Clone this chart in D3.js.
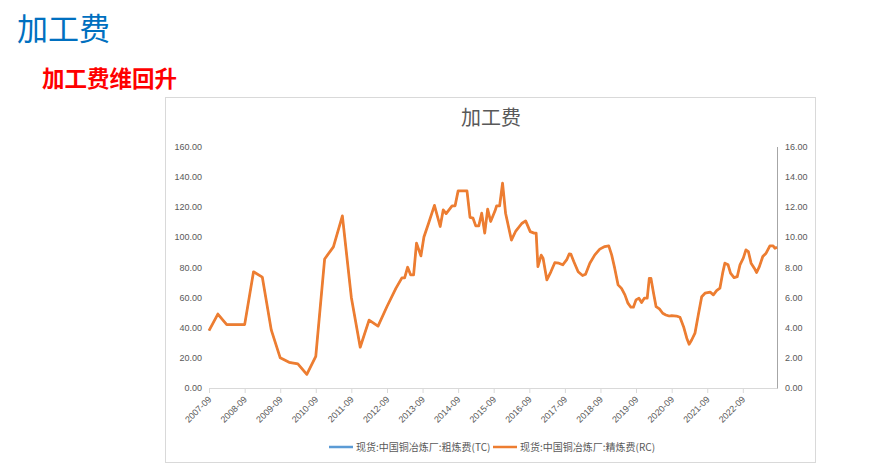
<!DOCTYPE html>
<html><head><meta charset="utf-8">
<script src="https://cdn.jsdelivr.net/npm/d3@7"></script>
<style>
body{margin:0;background:#fff;}
svg{display:block;}
</style></head>
<body>
<svg id="c" width="890" height="470"></svg>
<script>
const dates = ["2007-09-01","2007-12-01","2008-03-01","2008-06-01","2008-09-01","2008-12-01","2009-03-01","2009-06-01","2009-09-01","2009-12-01","2010-03-01","2010-06-01","2010-09-01","2010-12-01","2011-03-01","2011-06-01","2011-09-01","2011-12-01","2012-03-01","2012-06-01","2012-09-01","2012-12-01","2013-02-01","2013-03-01","2013-04-01","2013-05-01","2013-06-01","2013-07-01","2013-08-15","2013-09-15","2013-11-01","2014-01-01","2014-03-01","2014-04-01","2014-05-01","2014-07-01","2014-08-01","2014-09-01","2014-12-01","2015-01-01","2015-02-01","2015-03-01","2015-04-01","2015-05-01","2015-06-01","2015-07-01","2015-08-01","2015-09-15","2015-10-01","2015-11-01","2015-12-01","2016-01-01","2016-03-01","2016-04-15","2016-06-15","2016-07-25","2016-09-10","2016-10-20","2016-11-10","2016-11-28","2017-01-01","2017-01-20","2017-02-28","2017-04-10","2017-05-20","2017-07-01","2017-08-10","2017-09-20","2017-10-15","2017-11-01","2017-12-01","2018-01-15","2018-03-01","2018-04-01","2018-05-15","2018-07-05","2018-08-25","2018-10-15","2018-11-25","2018-12-25","2019-01-25","2019-03-01","2019-04-05","2019-05-10","2019-06-10","2019-07-10","2019-08-05","2019-09-01","2019-10-01","2019-10-28","2019-11-25","2019-12-25","2020-01-15","2020-02-01","2020-02-28","2020-03-25","2020-04-28","2020-06-01","2020-07-03","2020-08-06","2020-09-01","2020-10-20","2020-11-25","2021-01-01","2021-02-03","2021-02-27","2021-03-25","2021-04-28","2021-06-01","2021-07-06","2021-08-09","2021-10-01","2021-11-03","2021-12-06","2022-01-09","2022-02-06","2022-03-01","2022-04-03","2022-04-28","2022-06-03","2022-07-06","2022-08-03","2022-09-06","2022-10-03","2022-10-28","2022-11-25","2022-12-28","2023-01-21","2023-02-18","2023-03-25","2023-04-28","2023-06-06","2023-07-09","2023-07-27","2023-08-18"];

const tcValues = [38,49,42,42,42,77,73.5,38.5,20,17,16,9,21,85.5,93.5,114,60,27,45,41,54,66,73,73,80,75,75,96,87.5,100,109,121,107,118,115.5,120.7,120.7,130.6,130.6,113,112.5,107.4,107.4,115.8,102.6,118.5,110.3,117.4,120.7,120.7,135.7,115.8,98,104,109,110.7,103.6,102.6,102.6,80.4,88,86,71.6,77,83,82.7,81.6,85,88.8,88.7,83.8,77,74.5,75.4,82.7,88.2,92,93.7,94.2,88.2,79.4,68.3,66,61.7,56.2,53.5,53.5,58.4,59.5,56.6,59.5,59.5,72.7,72.7,62.8,53.9,52.4,49.5,48.4,47.7,47.9,47.7,46.9,40.6,33,29,31.8,36.3,48.4,60.5,62.8,63.5,61.7,64.5,66.1,76.1,82.7,81.6,76.1,73.1,73.8,81.6,86,91.5,90.4,82.7,79.4,76.5,80.4,87.1,89.3,94.2,94.2,92.6,93.3];

const rcValues = [3.8,4.9,4.2,4.2,4.2,7.7,7.35,3.85,2.0,1.7,1.6,0.9,2.1,8.55,9.35,11.4,6.0,2.7,4.5,4.1,5.4,6.6,7.3,7.3,8.0,7.5,7.5,9.6,8.75,10.0,10.9,12.1,10.7,11.8,11.55,12.07,12.07,13.06,13.06,11.3,11.25,10.74,10.74,11.58,10.26,11.85,11.03,11.74,12.07,12.07,13.57,11.58,9.8,10.4,10.9,11.07,10.36,10.26,10.26,8.04,8.8,8.6,7.16,7.7,8.3,8.27,8.16,8.5,8.88,8.87,8.38,7.7,7.45,7.54,8.27,8.82,9.2,9.37,9.42,8.82,7.94,6.83,6.6,6.17,5.62,5.35,5.35,5.84,5.95,5.66,5.95,5.95,7.27,7.27,6.28,5.39,5.24,4.95,4.84,4.77,4.79,4.77,4.69,4.06,3.3,2.9,3.18,3.63,4.84,6.05,6.28,6.35,6.17,6.45,6.61,7.61,8.27,8.16,7.61,7.31,7.38,8.16,8.6,9.15,9.04,8.27,7.94,7.65,8.04,8.71,8.93,9.42,9.42,9.26,9.33];

const leftTicks = [0,20,40,60,80,100,120,140,160];
const rightTicks = [0,2,4,6,8,10,12,14,16];
const xTickDates = ["2007-09","2008-09","2009-09","2010-09","2011-09","2012-09","2013-09","2014-09","2015-09","2016-09","2017-09","2018-09","2019-09","2020-09","2021-09","2022-09"];
const seriesNames = ["现货:中国铜冶炼厂:粗炼费(TC)","现货:中国铜冶炼厂:精炼费(RC)"];
const seriesColors = ["#5b9bd5","#ed7d31"];

const parse = d3.timeParse("%Y-%m-%d");
const parseM = d3.timeParse("%Y-%m");
const pts = dates.map((d,i)=>({date:parse(d), tc:tcValues[i], rc:rcValues[i]}));

const svg = d3.select("#c");
const cjk = "'Noto Sans CJK SC','Noto Sans',sans-serif";
const lat = "'Liberation Sans',Arial,sans-serif";

// page headings
svg.append("text").attr("x",17).attr("y",40).attr("fill","#0070c0")
  .style("font-family",cjk).style("font-size","31px").text("加工费");
svg.append("text").attr("x",42).attr("y",87).attr("fill","#ff0000")
  .style("font-family",cjk).style("font-size","22.5px").style("font-weight","bold").text("加工费维回升");

// chart box
svg.append("rect").attr("x",165.5).attr("y",97.5).attr("width",650).attr("height",365)
  .attr("fill","#fff").attr("stroke","#d9d9d9").attr("stroke-width",1);

svg.append("text").attr("x",491).attr("y",125).attr("text-anchor","middle").attr("fill","#595959")
  .style("font-family",cjk).style("font-size","20px").text("加工费");

const x = d3.scaleTime().domain([pts[0].date, pts[pts.length-1].date]).range([209,777]);
const yL = d3.scaleLinear().domain([0,160]).range([388,146.5]);
const yR = d3.scaleLinear().domain([0,16]).range([388,146.5]);

// x axis
const xa = svg.append("g").attr("transform","translate(0,388)")
  .call(d3.axisBottom(x).tickValues(xTickDates.map(parseM)).tickFormat(()=>"").tickSize(5).tickSizeOuter(0));
xa.select(".domain").attr("stroke","#d9d9d9");
xa.selectAll(".tick line").attr("stroke","#d9d9d9");
xTickDates.forEach(t=>{
  const px = x(parseM(t));
  svg.append("text").attr("transform",`translate(${px+3},${400}) rotate(-45)`)
    .attr("text-anchor","end").attr("fill","#595959")
    .style("font-family",lat).style("font-size","9px").text(t);
});

// left axis labels
const la = svg.append("g").attr("transform","translate(209,0)")
  .call(d3.axisLeft(yL).tickValues(leftTicks).tickFormat(d3.format(".2f")).tickSize(0).tickPadding(7));
la.select(".domain").remove();
la.selectAll("text").attr("fill","#595959").style("font-family",lat).style("font-size","9px");

// right axis
const ra = svg.append("g").attr("transform","translate(777,0)")
  .call(d3.axisRight(yR).tickValues(rightTicks).tickFormat(d3.format(".2f")).tickSize(0).tickPadding(8));
ra.select(".domain").attr("stroke","#a6a6a6");
ra.selectAll("text").attr("fill","#595959").style("font-family",lat).style("font-size","9px");

// lines (TC underneath, fully covered by RC as in the reference)
const lineTC = d3.line().x(d=>x(d.date)).y(d=>yL(d.tc));
const lineRC = d3.line().x(d=>x(d.date)).y(d=>yR(d.rc));
svg.append("path").datum(pts).attr("d",lineTC).attr("fill","none")
  .attr("stroke",seriesColors[0]).attr("stroke-width",1.5).attr("stroke-linejoin","round");
svg.append("path").datum(pts).attr("d",lineRC).attr("fill","none")
  .attr("stroke",seriesColors[1]).attr("stroke-width",2.75).attr("stroke-linejoin","round");

// legend
const lg = svg.append("g");
const legendX = [329, 493];
seriesNames.forEach((n,i)=>{
  lg.append("line").attr("x1",legendX[i]).attr("x2",legendX[i]+24).attr("y1",447).attr("y2",447)
    .attr("stroke",seriesColors[i]).attr("stroke-width",2.5);
  lg.append("text").attr("x",legendX[i]+27).attr("y",450.5).attr("fill","#595959")
    .style("font-family",cjk).style("font-size","10px").text(n);
});
</script>
</body></html>
